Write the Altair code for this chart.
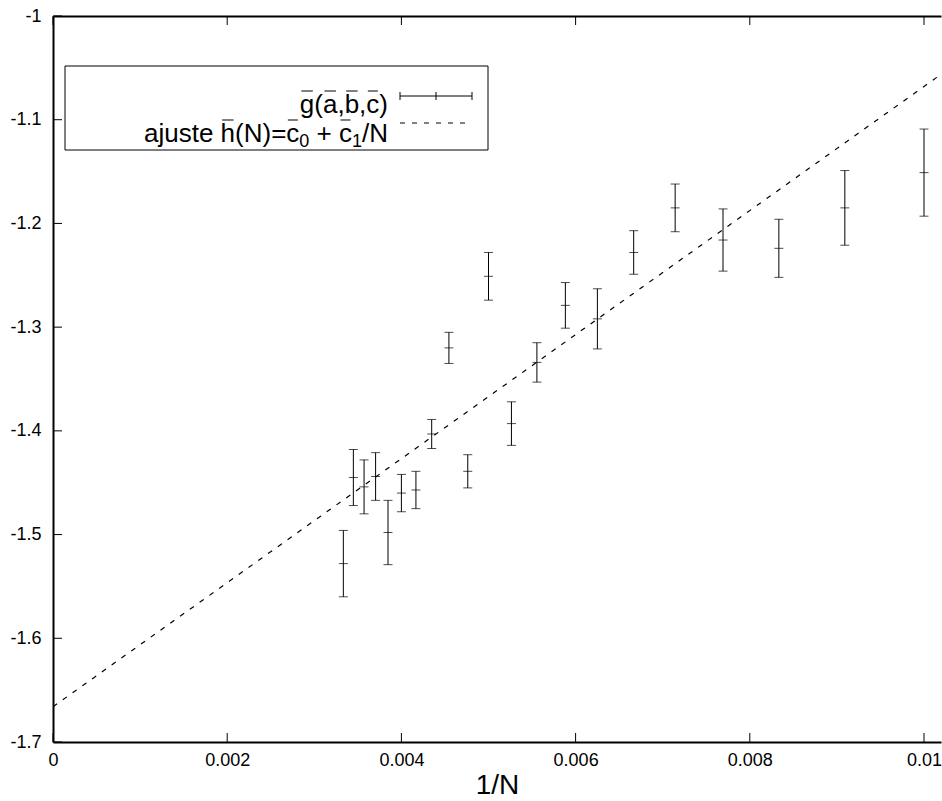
import altair as alt
import pandas as pd

# ---- data ----
N_values = [300, 290, 280, 270, 260, 250, 240, 230, 220, 210, 200,
            190, 180, 170, 160, 150, 140, 130, 120, 110, 100]
g_mean = [-1.528, -1.445, -1.454, -1.444, -1.498, -1.460, -1.457, -1.403, -1.320, -1.439, -1.251,
          -1.393, -1.334, -1.279, -1.292, -1.228, -1.185, -1.216, -1.224, -1.185, -1.151]
g_err = [0.032, 0.027, 0.026, 0.023, 0.031, 0.018, 0.018, 0.014, 0.015, 0.016, 0.023,
         0.021, 0.019, 0.022, 0.029, 0.021, 0.023, 0.030, 0.028, 0.036, 0.042]

fit_x = [0.0, 0.0102]
fit_y = [-1.666, -1.056]

x_ticks = [0, 0.002, 0.004, 0.006, 0.008, 0.01]
y_ticks = [-1.7, -1.6, -1.5, -1.4, -1.3, -1.2, -1.1, -1.0]

# legend texts (gnuplot enhanced text: overlines and subscripts drawn separately)
key1_text = "g(a,b,c)"
key2_main = ["ajuste h(N)=c", "+ c", "/N"]
key2_subs = ["0", "1"]

# ---- layout ----
W, H = 888, 726
XMAX = 0.010195
FONT = "Liberation Sans"
FS = 26          # key font size
FSS = 18         # subscript font size

df = pd.DataFrame({"N": N_values, "g": g_mean, "e": g_err})
fit_df = pd.DataFrame({"x": fit_x, "y": fit_y})
xt_df = pd.DataFrame({"tv": x_ticks})
yt_df = pd.DataFrame({"tv": y_ticks})
one = alt.Data(values=[{"k": 1}])

xs = alt.Scale(domain=[0, XMAX], nice=False, zero=False)
ys = alt.Scale(domain=[-1.7, -1.0], nice=False, zero=False)

x_axis = alt.Axis(values=x_ticks, labelExpr="'' + datum.value", orient="bottom",
                  domain=True, domainColor="black", domainWidth=2, ticks=False, tickSize=0,
                  grid=False, labelFont=FONT, labelFontSize=18, labelColor="black",
                  labelPadding=9, labelFlush=False, labelOverlap=False,
                  title="1/N", titleFont=FONT, titleFontSize=28, titleFontWeight="normal",
                  titleColor="black", titlePadding=2)
y_axis = alt.Axis(values=y_ticks, labelExpr="'' + datum.value", orient="left",
                  domain=True, domainColor="black", domainWidth=2, ticks=False, tickSize=0,
                  grid=False, labelFont=FONT, labelFontSize=18, labelColor="black",
                  labelPadding=12, labelFlush=False, labelOverlap=False, title=None)
top_axis = alt.Axis(orient="top", values=x_ticks, labels=False, ticks=False, tickSize=0,
                    domain=True, domainColor="black", domainWidth=2, grid=False, title=None)

base = alt.Chart(df).transform_calculate(
    inv="1/datum.N", lo="datum.g - datum.e", hi="datum.g + datum.e")

bars = base.mark_rule(color="black", strokeWidth=1).encode(
    x=alt.X("inv:Q", scale=xs, axis=x_axis),
    y=alt.Y("lo:Q", scale=ys, axis=y_axis),
    y2="hi:Q")
cap_lo = base.mark_tick(orient="horizontal", size=9, thickness=1, color="black").encode(
    x=alt.X("inv:Q", scale=xs, axis=None), y=alt.Y("lo:Q", scale=ys, axis=None))
cap_hi = base.mark_tick(orient="horizontal", size=9, thickness=1, color="black").encode(
    x=alt.X("inv:Q", scale=xs, axis=None), y=alt.Y("hi:Q", scale=ys, axis=None))
center = base.mark_tick(orient="horizontal", size=9, thickness=1, color="black").encode(
    x=alt.X("inv:Q", scale=xs, axis=None), y=alt.Y("g:Q", scale=ys, axis=None))

fit = alt.Chart(fit_df).mark_line(color="black", strokeWidth=1.2, strokeDash=[5, 7], clip=True).encode(
    x=alt.X("x:Q", scale=xs, axis=None), y=alt.Y("y:Q", scale=ys, axis=None))

# inward ticks (gnuplot style)
tick_bottom = alt.Chart(xt_df).mark_rule(color="black", strokeWidth=1).encode(
    x=alt.X("tv:Q", scale=xs, axis=None), y=alt.value(H), y2=alt.value(H - 9))
tick_top = alt.Chart(xt_df).mark_rule(color="black", strokeWidth=1).encode(
    x=alt.X("tv:Q", scale=xs, axis=top_axis), y=alt.value(0), y2=alt.value(9))
tick_left = alt.Chart(yt_df).mark_rule(color="black", strokeWidth=1).encode(
    y=alt.Y("tv:Q", scale=ys, axis=None), x=alt.value(0), x2=alt.value(9))

# ---- key (legend box) ----
LX0, LX1, LY0, LY1 = 12, 435, 50, 134
TX = 335                 # right edge of key texts
SX0, SX1 = 347, 419      # sample line
R1, R2 = 80, 107         # sample rows
B1, B2 = 97, 126         # text baselines
OL = 22                  # overline height above baseline


def em(s):
    w = {"a": .556, "j": .222, "u": .556, "s": .5, "t": .278, "e": .556, " ": .278,
         "h": .556, "(": .333, ")": .333, "N": .722, "=": .584, "c": .5, "+": .584,
         "/": .278, "g": .556, "b": .556, ",": .278, "0": .556, "1": .556}
    return sum(w[ch] for ch in s)


def txt(s, x, y, size, align="left"):
    return alt.Chart(one).mark_text(align=align, baseline="alphabetic", font=FONT,
                                    fontSize=size, color="black").encode(
        x=alt.value(x), y=alt.value(y), text=alt.value(s))


def hline(x0, x1, y, dash=None, sw=1):
    kw = {"color": "black", "strokeWidth": sw}
    if dash:
        kw["strokeDash"] = dash
    return alt.Chart(one).mark_rule(**kw).encode(
        x=alt.value(x0), x2=alt.value(x1), y=alt.value(y))


def vline(x, y0, y1):
    return alt.Chart(one).mark_rule(color="black", strokeWidth=1).encode(
        x=alt.value(x), y=alt.value(y0), y2=alt.value(y1))


key_layers = [alt.Chart(one).mark_rect(fill="white", stroke="black", strokeWidth=1).encode(
    x=alt.value(LX0), x2=alt.value(LX1), y=alt.value(LY0), y2=alt.value(LY1))]

# row 1: g(a,b,c) with overlines on g, a, b, c
k1_start = TX - em(key1_text) * FS
key_layers.append(txt(key1_text, TX, B1, FS, align="right"))
pos = k1_start
for ch in key1_text:
    w = em(ch) * FS
    if ch in "gabc":
        key_layers.append(hline(pos + 1.5, pos + w - 1.5, B1 - OL))
    pos += w

# row 2: ajuste h(N)=c0 + c1/N with overlines on h and both c
SP = em(" ") * FS
seg_w = [em(key2_main[0]) * FS, em(key2_subs[0]) * FSS, SP + em(key2_main[1]) * FS,
         em(key2_subs[1]) * FSS, em(key2_main[2]) * FS]
x0 = TX - sum(seg_w)
xs_seg = [x0]
for w in seg_w[:-1]:
    xs_seg.append(xs_seg[-1] + w)
key_layers.append(txt(key2_main[0], xs_seg[0], B2, FS))
key_layers.append(txt(key2_subs[0], xs_seg[1], B2 + 5, FSS))
key_layers.append(txt(key2_main[1], xs_seg[2] + SP, B2, FS))
key_layers.append(txt(key2_subs[1], xs_seg[3], B2 + 5, FSS))
key_layers.append(txt(key2_main[2], xs_seg[4], B2, FS))
h_x = xs_seg[0] + em("ajuste ") * FS
c0_x = xs_seg[0] + em("ajuste h(N)=") * FS
c1_x = xs_seg[2] + SP + em("+ ") * FS
key_layers.append(hline(h_x + 1.5, h_x + em("h") * FS - 1.5, B2 - OL))
key_layers.append(hline(c0_x + 1.5, c0_x + em("c") * FS - 1.5, B2 - OL))
key_layers.append(hline(c1_x + 1.5, c1_x + em("c") * FS - 1.5, B2 - OL))

# samples
key_layers += [
    hline(SX0, SX1, R1),
    vline(SX0, R1 - 4, R1 + 4),
    vline(SX1, R1 - 4, R1 + 4),
    vline((SX0 + SX1) / 2, R1 - 4, R1 + 4),
    hline(SX0, SX1, R2, dash=[5, 7], sw=1.2),
]

chart = alt.layer(
    fit, bars, cap_lo, cap_hi, center, tick_bottom, tick_top, tick_left, *key_layers
).resolve_axis(x="independent", y="independent").properties(
    width=W, height=H,
    autosize=alt.AutoSizeParams(type="none"),
    padding={"left": 53, "top": 16, "right": 1, "bottom": 59},
    background="white"
).configure_view(stroke=None)

chart.save("out.html", embed_options={"renderer": "svg", "actions": False})
